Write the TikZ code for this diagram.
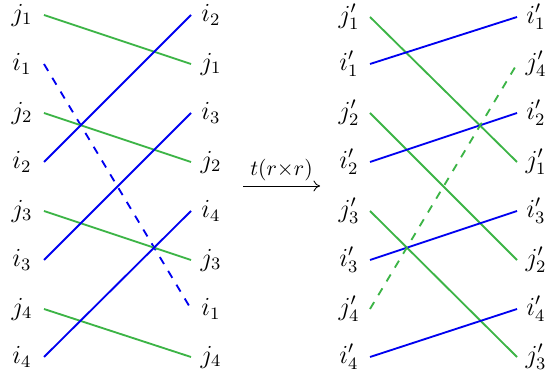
\documentclass[tikz,border=0pt]{standalone}
\usetikzlibrary{arrows.meta}
\definecolor{lgreen}{RGB}{60,180,70}
\definecolor{lblue}{RGB}{0,0,240}
\begin{document}
\begin{tikzpicture}[x=0.46pt,y=-0.46pt,
  lab/.style={inner sep=0pt,font=\large},
  gline/.style={draw=lgreen,line width=0.85pt},
  bline/.style={draw=lblue,line width=0.85pt},
  dsh/.style={dash pattern=on 3.7pt off 3.7pt}]
\useasboundingbox (0,0) rectangle (548,377);
% left diagram labels
\foreach \n/\t/\y in {a1/j_1/15,a2/i_1/64,a3/j_2/113,a4/i_2/162,a5/j_3/211,a6/i_3/260,a7/j_4/309,a8/i_4/357}{
  \node[lab] (L\n) at (22,\y) {$\t$};
  \coordinate (P\n) at (44,\y);}
\foreach \n/\t/\y in {a1/i_2/15,a2/j_1/64,a3/i_3/113,a4/j_2/162,a5/i_4/211,a6/j_3/260,a7/i_1/309,a8/j_4/357}{
  \node[lab] (R\n) at (211,\y) {$\t$};
  \coordinate (Q\n) at (191,\y);}
% right diagram labels
\foreach \n/\t/\y in {b1/j'_1/17,b2/i'_1/64,b3/j'_2/113,b4/i'_2/162,b5/j'_3/211,b6/i'_3/260,b7/j'_4/309,b8/i'_4/357}{
  \node[lab] (L\n) at (349,\y) {$\t$};
  \coordinate (P\n) at (370,\y);}
\foreach \n/\t/\y in {b1/i'_1/17,b2/j'_4/64,b3/i'_2/113,b4/j'_1/162,b5/i'_3/211,b6/j'_2/260,b7/i'_4/309,b8/j'_3/357}{
  \node[lab] (R\n) at (536,\y) {$\t$};
  \coordinate (Q\n) at (517,\y);}
% left connectors
\draw[gline] (Pa1) -- (Qa2);
\draw[bline,dsh] (Pa2) -- (Qa7);
\draw[gline] (Pa3) -- (Qa4);
\draw[bline] (Pa4) -- (Qa1);
\draw[gline] (Pa5) -- (Qa6);
\draw[bline] (Pa6) -- (Qa3);
\draw[gline] (Pa7) -- (Qa8);
\draw[bline] (Pa8) -- (Qa5);
% right connectors
\draw[gline] (Pb1) -- (Qb4);
\draw[bline] (Pb2) -- (Qb1);
\draw[gline] (Pb3) -- (Qb6);
\draw[bline] (Pb4) -- (Qb3);
\draw[gline] (Pb5) -- (Qb8);
\draw[bline] (Pb6) -- (Qb5);
\draw[gline,dsh] (Pb7) -- (Qb2);
\draw[bline] (Pb8) -- (Qb7);
% arrow
\coordinate (As) at (243,186);
\coordinate (Ae) at (320,186);
\draw[-{To[length=3pt,width=5pt]},line width=0.4pt] (As) -- node[above=1pt,inner sep=1pt] (Al) {$t(r{\times}r)$} (Ae);
\end{tikzpicture}
\end{document}
